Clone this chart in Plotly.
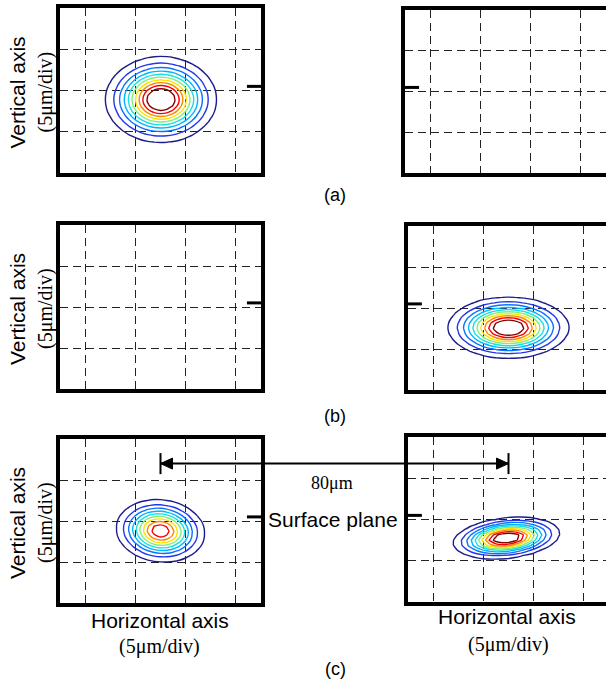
import numpy as np
import plotly.graph_objects as go
from plotly.subplots import make_subplots

W, H = 606, 684

# ---------------- data ----------------
panel_labels = ["(a)", "(b)", "(c)"]
# measurement grid of the beam profiler (µm)
grid_x = np.linspace(-10.0, 10.0, 33)
grid_y = np.linspace(-10.0, 10.0, 33)
# spots: panel index (1..6), centre, widths (µm), tilt (deg), relative peak
spot_panel = [1, 4, 5, 6]
spot_cx = [0.05, 0.0, 0.0, -0.2]
spot_cy = [-1.1, -2.4, -1.2, -2.25]
spot_sx = [2.48, 2.7, 2.07, 2.4]
spot_sy = [2.34, 1.67, 1.75, 1.08]
spot_tilt = [0.0, 0.0, -15.0, 8.0]
spot_peak = [1.0, 1.0, 0.84, 1.0]
level_start, level_step, level_count = 0.085, 0.085, 10
level_colors = ["rgb(28,28,140)", "rgb(35,55,230)", "rgb(10,115,255)", "rgb(0,180,255)",
                "rgb(20,225,225)", "rgb(130,238,120)", "rgb(250,228,0)", "rgb(255,135,0)",
                "rgb(245,0,0)", "rgb(130,0,0)"]
surface_y = 0.5          # µm, surface plane mark
separation_label = "80μm"
arrow_y = 7.0            # µm (in left c panel)

# ---------------- layout geometry (px) ----------------
# (left, top, right, bottom)
boxes = {
    1: (60, 8, 261, 173),
    2: (405, 10, 606, 173),
    3: (60, 225, 261, 389),
    4: (408, 226, 606, 390),
    5: (60, 439, 261, 603),
    6: (408, 437, 606, 602),
}
PX_PER_UM = 201 / 20.0

fig = make_subplots(rows=3, cols=2)

colorscale = [[i / (len(level_colors) - 1), c] for i, c in enumerate(level_colors)]
XX, YY = np.meshgrid(grid_x, grid_y)
for p, cx, cy, sx, sy, th, pk in zip(spot_panel, spot_cx, spot_cy, spot_sx, spot_sy, spot_tilt, spot_peak):
    t = np.deg2rad(th)
    u = (XX - cx) * np.cos(t) + (YY - cy) * np.sin(t)
    v = -(XX - cx) * np.sin(t) + (YY - cy) * np.cos(t)
    Z = pk * np.exp(-0.5 * ((u / sx) ** 2 + (v / sy) ** 2))
    row = (p - 1) // 2 + 1
    col = (p - 1) % 2 + 1
    fig.add_trace(go.Contour(
        x=grid_x, y=grid_y, z=Z, autocontour=False,
        contours=dict(start=level_start, end=level_start + level_step * (level_count - 1) + 1e-4,
                      size=level_step, coloring="lines"),
        line=dict(width=1.4, smoothing=0.3),
        colorscale=colorscale, zmin=level_start,
        zmax=level_start + level_step * (level_count - 1),
        showscale=False, hoverinfo="skip"), row=row, col=col)


def axname(prefix, i):
    return prefix + ("" if i == 1 else str(i))


axis_info = {}
for i, (l, t, r, b) in boxes.items():
    xr = [-10.0, -10.0 + (r - l) / PX_PER_UM]
    yr = [-10.0, 10.0]
    xd = [l / W, r / W]
    yd = [1 - b / H, 1 - t / H]
    axis_info[i] = (xd, yd, xr, yr)
    right_col = (i % 2 == 0)
    fig.layout[axname("xaxis", i)].update(
        domain=xd, range=xr, showline=True, linewidth=4, linecolor="black", mirror=True,
        showgrid=True, gridcolor="#222", gridwidth=1, griddash="8px,5px",
        tick0=2.5, dtick=5, showticklabels=False, ticks="", zeroline=False, fixedrange=True)
    fig.layout[axname("yaxis", i)].update(
        domain=yd, range=yr, showline=True, linewidth=4, linecolor="black",
        mirror=(not right_col),
        showgrid=True, gridcolor="#222", gridwidth=1, griddash="8px,5px",
        tick0=0, dtick=5, showticklabels=False, ticks="", zeroline=False, fixedrange=True)
    # surface-plane mark
    if right_col:
        x0, x1 = 0.0, 0.07
    else:
        x0, x1 = 0.93, 1.0
    fig.add_shape(type="line", xref=axname("x", i) + " domain", yref=axname("y", i),
                  x0=x0, x1=x1, y0=surface_y, y1=surface_y,
                  line=dict(color="black", width=3))


def to_paper_x(i, v):
    xd, yd, xr, yr = axis_info[i]
    return xd[0] + (v - xr[0]) / (xr[1] - xr[0]) * (xd[1] - xd[0])


def to_paper_y(i, v):
    xd, yd, xr, yr = axis_info[i]
    return yd[0] + (v - yr[0]) / (yr[1] - yr[0]) * (yd[1] - yd[0])


# 80 µm separation arrow, between spot centres of panels 5 and 6
ax0 = to_paper_x(5, 0.0)
ax1 = to_paper_x(6, 0.0)
ay = to_paper_y(5, arrow_y)
dx = 12 / W
dy = 5.5 / H
bar = 10.5 / H
fig.add_shape(type="line", xref="paper", yref="paper", x0=ax0, x1=ax1, y0=ay, y1=ay,
              line=dict(color="black", width=2))
for xe in (ax0, ax1):
    fig.add_shape(type="line", xref="paper", yref="paper", x0=xe, x1=xe, y0=ay - bar, y1=ay + bar,
                  line=dict(color="black", width=2))
fig.add_shape(type="path", xref="paper", yref="paper",
              path=f"M {ax0} {ay} L {ax0 + dx} {ay + dy} L {ax0 + dx} {ay - dy} Z",
              fillcolor="black", line=dict(color="black", width=1))
fig.add_shape(type="path", xref="paper", yref="paper",
              path=f"M {ax1} {ay} L {ax1 - dx} {ay + dy} L {ax1 - dx} {ay - dy} Z",
              fillcolor="black", line=dict(color="black", width=1))

SANS = "Liberation Sans, Arial, sans-serif"
SERIF = "Liberation Serif, Times New Roman, serif"


def ann(text, px, py, size, family, angle=0):
    fig.add_annotation(text=text, x=px / W, y=1 - py / H, xref="paper", yref="paper",
                       showarrow=False, xanchor="center", yanchor="middle",
                       textangle=angle, font=dict(size=size, family=family, color="black"))


# axis titles
for i in (1, 3, 5):
    l, t, r, b = boxes[i]
    cy = (t + b) / 2 + 2
    ann("Vertical axis", 17, cy, 21, SANS, -90)
    ann("(5μm/div)", 45, cy, 20, SERIF, -90)
ann("Horizontal axis", 160, 620, 21, SANS)
ann("(5μm/div)", 160, 646, 20, SERIF)
ann("Horizontal axis", 507, 616, 21, SANS)
ann("(5μm/div)", 508, 644, 20, SERIF)

# panel labels
for lab, py in zip(panel_labels, [195, 416, 669]):
    ann(lab, 335, py, 18, SANS)

ann(separation_label, 332, 483, 18, SERIF)
ann("Surface plane", 333, 519, 21, SANS)

fig.update_layout(width=W, height=H, margin=dict(l=0, r=0, t=0, b=0),
                  plot_bgcolor="white", paper_bgcolor="white", showlegend=False)
fig.write_html("out.html", config={"displayModeBar": False},
               post_script="document.body.style.margin='0';")
